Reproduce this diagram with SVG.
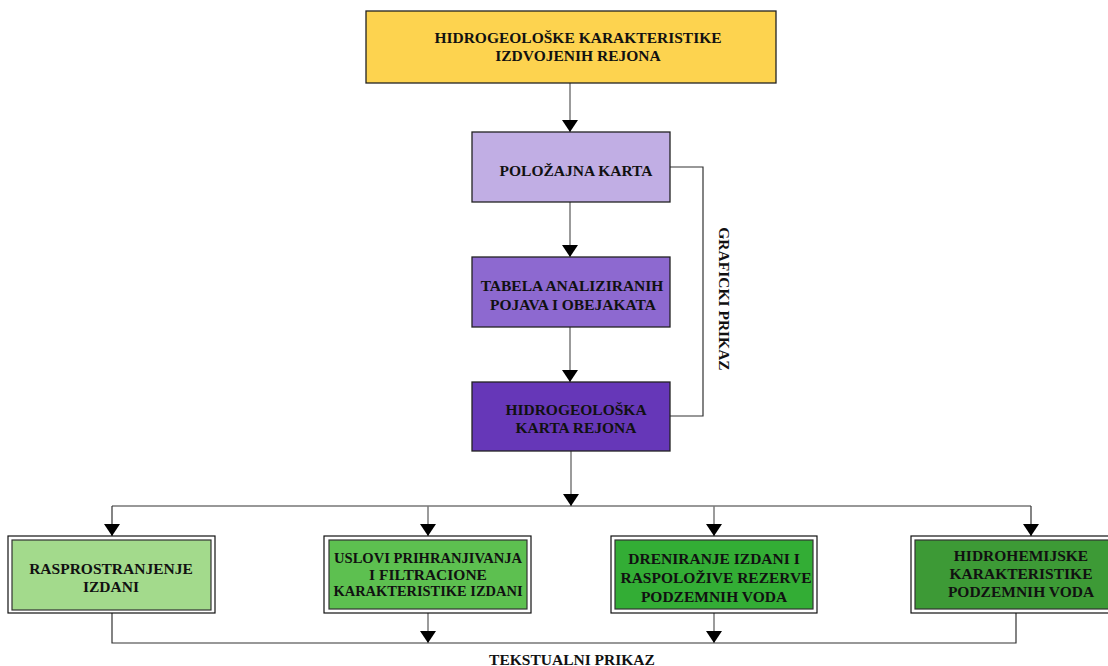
<svg xmlns="http://www.w3.org/2000/svg" width="1108" height="666" viewBox="0 0 1108 666">
<style>
text{font-family:"Liberation Serif","Times New Roman",serif;font-weight:bold;font-size:15.5px;fill:#111;text-anchor:middle}
.box{stroke:#222;stroke-width:1.3}
.outer{fill:#fff;stroke:#111;stroke-width:1.2}
.inner{stroke:#333;stroke-width:1.2}
.ln{fill:none;stroke:#7a7a7a;stroke-width:1.5}
.hl{fill:none;stroke:#333;stroke-width:1.2}
</style>
<defs>
<marker id="ah" markerWidth="12" markerHeight="16" refX="12" refY="8" orient="auto" markerUnits="userSpaceOnUse">
<path d="M0,0 L12,8 L0,16 Z" fill="#000"/>
</marker>
</defs>
<rect width="1108" height="666" fill="#fff"/>
<g id="connectors">
<line class="ln" x1="570" y1="83" x2="570" y2="132" marker-end="url(#ah)"/>
<line class="ln" x1="570" y1="202" x2="570" y2="257" marker-end="url(#ah)"/>
<line class="ln" x1="570" y1="327" x2="570" y2="382" marker-end="url(#ah)"/>
<polyline class="hl" points="670,167 703,167 703,416 670,416"/>
<line class="ln" x1="571" y1="451" x2="571" y2="506" marker-end="url(#ah)"/>
<line class="hl" x1="112" y1="506" x2="1031" y2="506"/>
<line class="hl" x1="112" y1="506" x2="112" y2="536" marker-end="url(#ah)"/>
<line class="ln" x1="428" y1="506" x2="428" y2="536" marker-end="url(#ah)"/>
<line class="ln" x1="714" y1="506" x2="714" y2="536" marker-end="url(#ah)"/>
<line class="hl" x1="1031" y1="506" x2="1031" y2="536" marker-end="url(#ah)"/>
<polyline class="hl" points="112,613 112,643 1016,643 1016,613"/>
<line class="ln" x1="428" y1="613" x2="428" y2="643" marker-end="url(#ah)"/>
<line class="ln" x1="714" y1="613" x2="714" y2="643" marker-end="url(#ah)"/>
</g>
<g id="top">
<rect class="box" x="366" y="11" width="410" height="72" fill="#FDD34F"/>
<text x="578" y="43">HIDROGEOLOŠKE KARAKTERISTIKE</text>
<text x="578" y="61">IZDVOJENIH REJONA</text>
</g>
<g id="polozajna">
<rect class="box" x="472" y="132" width="198" height="70" fill="#C1AEE4"/>
<text x="576" y="176">POLOŽAJNA KARTA</text>
</g>
<g id="tabela">
<rect class="box" x="472" y="257" width="198" height="70" fill="#8D69D0"/>
<text x="572" y="291">TABELA ANALIZIRANIH</text>
<text x="573" y="310">POJAVA I OBEJAKATA</text>
</g>
<g id="hidrokarta">
<rect class="box" x="472" y="382" width="198" height="69" fill="#6637B8"/>
<text x="576" y="415">HIDROGEOLOŠKA</text>
<text x="576" y="433">KARTA REJONA</text>
</g>
<g id="grafic">
<text transform="translate(719,299) rotate(90)">GRAFICKI PRIKAZ</text>
</g>
<g id="rasprostranjenje">
<rect class="outer" x="8" y="536" width="207" height="77"/>
<rect class="inner" x="12" y="540" width="199" height="70" fill="#A3DA8C"/>
<text x="111" y="574">RASPROSTRANJENJE</text>
<text x="111" y="592">IZDANI</text>
</g>
<g id="uslovi">
<rect class="outer" x="324" y="536" width="207" height="77"/>
<rect class="inner" x="329" y="540" width="198" height="69" fill="#5DC050"/>
<text x="428" y="563" textLength="188" lengthAdjust="spacingAndGlyphs">USLOVI PRIHRANJIVANJA</text>
<text x="428" y="580">I FILTRACIONE</text>
<text x="428" y="596" textLength="189" lengthAdjust="spacingAndGlyphs">KARAKTERISTIKE IZDANI</text>
</g>
<g id="dreniranje">
<rect class="outer" x="611" y="536" width="206" height="77"/>
<rect class="inner" x="615" y="540" width="198" height="69" fill="#33AD35"/>
<text x="714" y="564">DRENIRANJE IZDANI I</text>
<text x="716" y="583">RASPOLOŽIVE REZERVE</text>
<text x="714" y="602">PODZEMNIH VODA</text>
</g>
<g id="hidrohemijske">
<rect class="outer" x="911" y="536" width="200" height="77"/>
<rect class="inner" x="915" y="540" width="196" height="69" fill="#3D9A36"/>
<text x="1021" y="561">HIDROHEMIJSKE</text>
<text x="1021" y="579">KARAKTERISTIKE</text>
<text x="1021" y="597">PODZEMNIH VODA</text>
</g>
<g id="tekst">
<text x="572" y="665">TEKSTUALNI PRIKAZ</text>
</g>
</svg>
